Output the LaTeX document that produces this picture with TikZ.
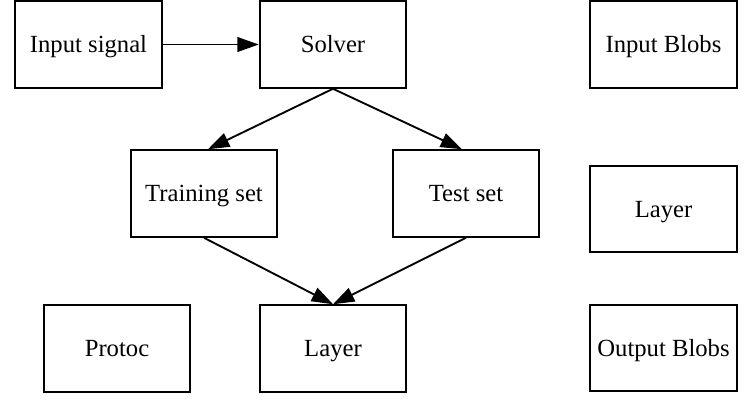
\documentclass[tikz,border=0pt]{standalone}
\usepackage{fontspec}
\setmainfont{Liberation Serif}
\usepackage{tikz}
\usetikzlibrary{arrows.meta}

\begin{document}
\begin{tikzpicture}[x=0.75pt,y=-0.75pt,line width=1.4pt,
    every node/.style={font=\fontsize{18.5}{22}\selectfont},
    blk/.style={draw,inner sep=0pt,minimum width=110pt,minimum height=65pt,
      text height=12.2pt,text depth=0pt},
    >={Triangle[length=16pt,width=11pt]}]
  \useasboundingbox (0,0) rectangle (753,408);
  % left part
  \node[blk] (insig) at (88.5,44.5) {Input signal};
  \node[blk] (solver) at (333,44.5) {Solver};
  \node[blk] (train) at (204,193.5) {Training set};
  \node[blk] (test) at (466,193.5) {Test set};
  \node[blk] (protoc) at (117,348.5) {Protoc};
  \node[blk] (layer) at (333,348.5) {Layer};
  % right column
  \node[blk] (inblobs) at (663.5,44.5) {Input Blobs};
  \node[blk] (rlayer) at (663.5,209) {Layer};
  \node[blk] (outblobs) at (663.5,348) {Output Blobs};
  \draw[->] (insig) -- (solver);
  \draw[->] (solver.south) -- ([xshift=3pt]train.north);
  \draw[->] (solver.south) -- ([xshift=-3pt]test.north);
  \draw[->] (train.south) -- (layer.north);
  \draw[->] (test.south) -- (layer.north);
\end{tikzpicture}
\end{document}
